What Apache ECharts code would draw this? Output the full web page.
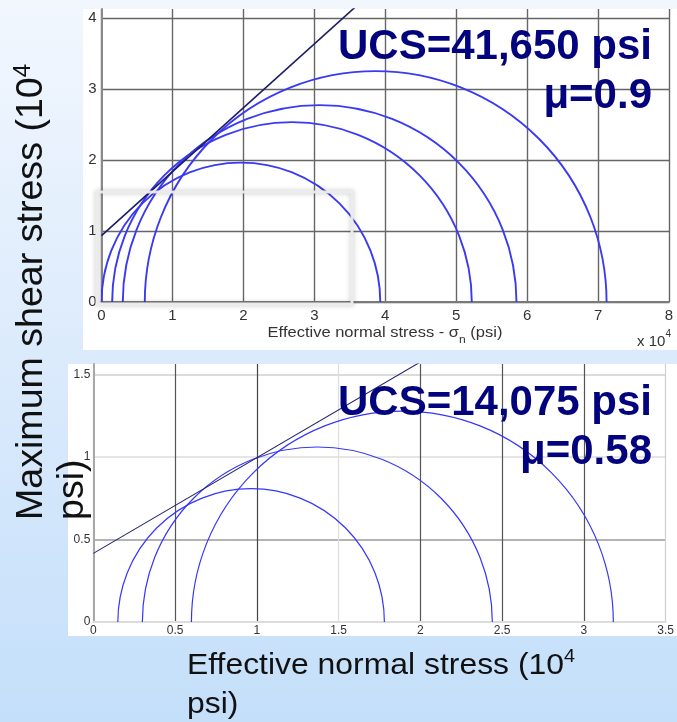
<!DOCTYPE html>
<html>
<head>
<meta charset="utf-8">
<script src="https://cdn.jsdelivr.net/npm/echarts@6/dist/echarts.min.js"></script>
<style>
  html, body { margin: 0; padding: 0; width: 677px; height: 722px; overflow: hidden;
    background: linear-gradient(to bottom, #f2f7fe 0%, #dcebfc 48%, #c4dffa 100%); }
  #chart { width: 677px; height: 722px; }
</style>
</head>
<body>
<div id="chart"></div>
<script>
// Upper test set (x 10^4 psi): confining stress σ3 and peak stress σ1 of each Mohr circle
const upperSigma3 = [0, 0.15, 0.30, 0.61];
const upperSigma1 = [3.93, 5.22, 5.85, 7.12];
const upperCohesion = 0.935;   // envelope intercept on the shear axis
const upperMu = 0.9;           // envelope slope (friction coefficient)
const upperXTicks = ['0', '1', '2', '3', '4', '5', '6', '7', '8'];
const upperYTicks = ['0', '1', '2', '3', '4'];

// Lower test set (x 10^4 psi)
const lowerSigma3 = [0.15, 0.30, 0.60];
const lowerSigma1 = [1.78, 2.44, 3.18];
const lowerCohesion = 0.416;
const lowerMu = 0.58;
const lowerXTicks = ['0', '0.5', '1', '1.5', '2', '2.5', '3', '3.5'];
const lowerYTicks = ['0', '0.5', '1', '1.5'];

const FONT = '"Liberation Sans", Arial, Helvetica, sans-serif';

function tickFormatter(ticks) {
  return function (v) {
    const s = String(+v.toFixed(3));
    return ticks.indexOf(s) >= 0 ? s : '';
  };
}

// Upper half of a Mohr circle, centred on (σ1+σ3)/2 with radius (σ1-σ3)/2
function mohrArc(color, width) {
  return function (params, api) {
    const s3 = api.value(0), s1 = api.value(1);
    const c = api.coord([(s1 + s3) / 2, 0]);
    const r = api.size([(s1 - s3) / 2, 0])[0];
    return {
      type: 'arc',
      shape: { cx: c[0], cy: c[1], r: r, startAngle: Math.PI, endAngle: 2 * Math.PI, clockwise: true },
      style: { fill: null, stroke: color, lineWidth: width }
    };
  };
}

function envelope(c, mu, xEnd) {
  return [[0, c], [xEnd, c + mu * xEnd]];
}

const upperCircles = upperSigma3.map((s3, i) => [s3, upperSigma1[i]]);
const lowerCircles = lowerSigma3.map((s3, i) => [s3, lowerSigma1[i]]);

const chart = echarts.init(document.getElementById('chart'), null, { renderer: 'canvas' });

const option = {
  animation: false,
  backgroundColor: 'transparent',
  grid: [
    { left: 101.5, top: 9, width: 567.5, height: 293 },
    { left: 93.3, top: 364, width: 574.7, height: 258 }
  ],
  xAxis: [
    {
      gridIndex: 0, type: 'value', min: 0, max: 8, interval: 1,
      axisLine: { show: true, onZero: false, lineStyle: { color: '#7a7a7a', width: 2 } },
      axisTick: { show: false },
      axisLabel: { margin: 6, color: '#333', fontSize: 15, fontFamily: FONT, formatter: tickFormatter(upperXTicks) },
      splitLine: { show: true, lineStyle: { color: '#666', width: 1.4 } }
    },
    {
      gridIndex: 1, type: 'value', min: 0, max: 3.5, interval: 0.5,
      axisLine: { show: true, onZero: false, lineStyle: { color: '#dcdcdc', width: 2 } },
      axisTick: { show: false },
      axisLabel: { margin: 3, color: '#333', fontSize: 12, fontFamily: FONT, formatter: tickFormatter(lowerXTicks) },
      splitLine: { show: true, lineStyle: {
        color: ['#bbb', '#555', '#444', '#dedede', '#555', '#555', '#555', '#cfcfcf'], width: 1.2 } }
    }
  ],
  yAxis: [
    {
      gridIndex: 0, type: 'value', min: 0, max: 4.127, interval: 1,
      axisLine: { show: true, onZero: false, lineStyle: { color: '#8a8a8a', width: 2 } },
      axisTick: { show: false },
      axisLabel: { margin: 5, color: '#333', fontSize: 15, fontFamily: FONT, formatter: tickFormatter(upperYTicks), showMaxLabel: false },
      splitLine: { show: true, showMaxLine: false, lineStyle: { color: '#666', width: 1.4 } }
    },
    {
      gridIndex: 1, type: 'value', min: 0, max: 1.564, interval: 0.5,
      axisLine: { show: true, onZero: false, lineStyle: { color: '#a8a8a8', width: 2 } },
      axisTick: { show: false },
      axisLabel: { margin: 3, color: '#333', fontSize: 12, fontFamily: FONT, formatter: tickFormatter(lowerYTicks), showMaxLabel: false },
      splitLine: { show: true, showMaxLine: false, lineStyle: {
        color: ['#ddd', '#9a9a9a', '#dcdcdc', '#cfcfcf'], width: 1.6 } }
    }
  ],
  series: [
    {
      type: 'custom', xAxisIndex: 0, yAxisIndex: 0, clip: true,
      data: upperCircles, renderItem: mohrArc('#3a3af4', 1.9), z: 3
    },
    {
      type: 'line', xAxisIndex: 0, yAxisIndex: 0, clip: true, symbol: 'none',
      data: envelope(upperCohesion, upperMu, 4),
      lineStyle: { color: '#1c1c68', width: 1.6 }, z: 4
    },
    {
      type: 'custom', xAxisIndex: 1, yAxisIndex: 1, clip: true,
      data: lowerCircles, renderItem: mohrArc('#3636fb', 1.2), z: 3
    },
    {
      type: 'line', xAxisIndex: 1, yAxisIndex: 1, clip: true, symbol: 'none',
      data: envelope(lowerCohesion, lowerMu, 2.2),
      lineStyle: { color: '#24246e', width: 1.1 }, z: 4
    }
  ],
  graphic: [
    // white chart panels
    { type: 'rect', z: -10, shape: { x: 83, y: 9, width: 594, height: 341 }, style: { fill: '#fff' } },
    { type: 'rect', z: -10, shape: { x: 68, y: 364, width: 609, height: 272 }, style: { fill: '#fff' } },
    // highlight frame on the low-stress corner
    { type: 'rect', z: 50, shape: { x: 97, y: 192, width: 255, height: 112 },
      style: { fill: null, stroke: 'rgba(236,236,236,0.95)', lineWidth: 3,
               shadowBlur: 5, shadowColor: 'rgba(0,0,0,0.25)' } },
    // upper axis name and exponent
    { type: 'text', z: 60, x: 385, y: 335, scaleX: 1.1, style: {
        text: '{a|Effective normal stress - σ}{b|n}{a| (psi)}', align: 'center', verticalAlign: 'middle',
        rich: { a: { fontSize: 15, fontFamily: FONT, fill: '#333', lineHeight: 20, verticalAlign: 'top' },
                b: { fontSize: 11, fontFamily: FONT, fill: '#333', verticalAlign: 'bottom' } } } },
    { type: 'text', z: 60, x: 671, y: 339, style: {
        text: '{a|x 10}{s|4}', align: 'right', verticalAlign: 'middle',
        rich: { a: { fontSize: 15, fontFamily: FONT, fill: '#333', lineHeight: 20, verticalAlign: 'bottom' },
                s: { fontSize: 10, fontFamily: FONT, fill: '#333', verticalAlign: 'top' } } } },
    // strength annotations
    { type: 'text', z: 100, x: 652, y: 47.5, style: { text: 'UCS=41,650 psi', fontSize: 42, fontWeight: 'bold',
        fontFamily: FONT, fill: '#03037e', align: 'right', verticalAlign: 'middle' } },
    { type: 'text', z: 100, x: 652, y: 96.5, style: { text: 'μ=0.9', fontSize: 42, fontWeight: 'bold',
        fontFamily: FONT, fill: '#03037e', align: 'right', verticalAlign: 'middle' } },
    { type: 'text', z: 100, x: 652, y: 403.5, style: { text: 'UCS=14,075 psi', fontSize: 42, fontWeight: 'bold',
        fontFamily: FONT, fill: '#03037e', align: 'right', verticalAlign: 'middle' } },
    { type: 'text', z: 100, x: 652, y: 452.5, style: { text: 'μ=0.58', fontSize: 42, fontWeight: 'bold',
        fontFamily: FONT, fill: '#03037e', align: 'right', verticalAlign: 'middle' } },
    // shared axis titles
    { type: 'text', z: 100, x: 31, y: 520, rotation: Math.PI / 2, style: {
        text: '{n|Maximum shear stress (10}{s|4}', align: 'left', verticalAlign: 'middle',
        rich: { n: { fontSize: 37.6, fontFamily: FONT, fill: '#111', lineHeight: 40, verticalAlign: 'bottom' },
                s: { fontSize: 24, fontFamily: FONT, fill: '#111', verticalAlign: 'top' } } } },
    { type: 'text', z: 100, x: 73, y: 520, rotation: Math.PI / 2, style: {
        text: 'psi)', fontSize: 37.6, fontFamily: FONT, fill: '#111', align: 'left', verticalAlign: 'middle' } },
    { type: 'text', z: 100, x: 187, y: 664, scaleX: 1.1, style: {
        text: '{n|Effective normal stress (10}{s|4}', align: 'left', verticalAlign: 'middle',
        rich: { n: { fontSize: 29, fontFamily: FONT, fill: '#111', lineHeight: 32, verticalAlign: 'bottom' },
                s: { fontSize: 18, fontFamily: FONT, fill: '#111', verticalAlign: 'top' } } } },
    { type: 'text', z: 100, x: 187, y: 705, scaleX: 1.1, style: {
        text: 'psi)', fontSize: 29, fontFamily: FONT, fill: '#111', align: 'left', verticalAlign: 'middle' } }
  ]
};

chart.setOption(option);
</script>
</body>
</html>
